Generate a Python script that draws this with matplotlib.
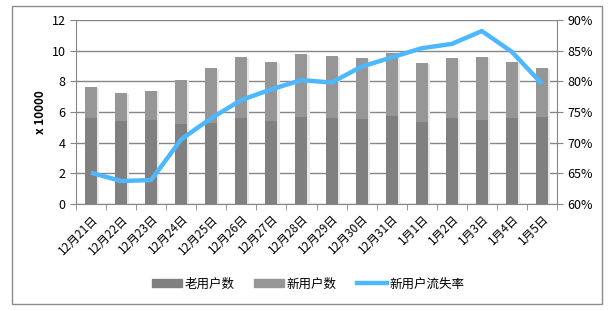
import numpy as np
import matplotlib.pyplot as plt
from matplotlib.patches import Rectangle
from matplotlib.lines import Line2D
from matplotlib.ticker import FuncFormatter

plt.rcParams['font.family'] = ['Noto Sans CJK SC', 'DejaVu Sans']

dates = ["12月21日", "12月22日", "12月23日", "12月24日", "12月25日", "12月26日",
         "12月27日", "12月28日", "12月29日", "12月30日", "12月31日", "1月1日",
         "1月2日", "1月3日", "1月4日", "1月5日"]
old_users = [5.59, 5.43, 5.48, 5.22, 5.30, 5.61, 5.43, 5.70,
             5.63, 5.57, 5.74, 5.35, 5.63, 5.50, 5.63, 5.67]
total_users = [7.63, 7.24, 7.39, 8.09, 8.87, 9.59, 9.26, 9.78,
               9.65, 9.52, 9.85, 9.20, 9.52, 9.59, 9.26, 8.87]
new_users = [t - o for t, o in zip(total_users, old_users)]
churn = [65.1, 63.75, 63.9, 70.55, 74.0, 76.96, 78.7, 80.2,
         79.8, 82.4, 83.9, 85.4, 86.1, 88.2, 84.8, 79.6]

c_old = "#808080"
c_new = "#969696"
c_line = "#4db8ff"
c_axis = "#868686"

fig = plt.figure(figsize=(6.08, 3.11), dpi=100)
fig.patches.append(Rectangle((12 / 608, 1 - 304 / 311), 590 / 608, 298 / 311,
                             transform=fig.transFigure, fill=False,
                             edgecolor="#8c8c8c", linewidth=1))

ax = fig.add_axes([76 / 608, 1 - 204 / 311, 481 / 608, 184 / 311])
x = np.arange(len(dates))
w = 0.4

# light shadow behind bars
ax.bar(x + 0.07, total_users, w, bottom=-0.05, color="#e8e8e8", zorder=2)
ax.bar(x, old_users, w, color=c_old, zorder=3)
ax.bar(x, new_users, w, bottom=old_users, color=c_new, zorder=3)

ax.set_xlim(-0.5, len(dates) - 0.5)
ax.set_ylim(0, 12)
ax.set_yticks(range(0, 13, 2))
ax.yaxis.grid(True, color=c_axis, linewidth=1)
ax.set_axisbelow(True)
ax.set_xticks(x)
ax.set_xticklabels(dates, rotation=45, ha="right", rotation_mode="anchor", fontsize=8.5)
ax.set_xticks(np.arange(-0.5, len(dates), 1), minor=True)
ax.tick_params(axis="x", which="major", length=0, pad=6)
ax.tick_params(axis="x", which="minor", length=4, color=c_axis)
ax.tick_params(axis="y", length=4, color=c_axis, labelsize=9)
ax.set_ylabel("x 10000", fontsize=8.5, fontweight="bold", labelpad=3)
for s in ["top", "right"]:
    ax.spines[s].set_visible(False)
for s in ["left", "bottom"]:
    ax.spines[s].set_color(c_axis)

ax2 = ax.twinx()
ax2.plot(x, churn, color=c_line, linewidth=3.2, solid_capstyle="butt", zorder=5)
ax2.set_ylim(60, 90)
ax2.set_yticks(range(60, 91, 5))
ax2.yaxis.set_major_formatter(FuncFormatter(lambda v, p: f"{v:.0f}%"))
ax2.tick_params(axis="y", length=4, color=c_axis, labelsize=9)
for s in ["top", "left", "bottom"]:
    ax2.spines[s].set_visible(False)
ax2.spines["right"].set_color(c_axis)

handles = [Rectangle((0, 0), 1, 1, color=c_old),
           Rectangle((0, 0), 1, 1, color=c_new),
           Line2D([0], [0], color=c_line, linewidth=3.2)]
fig.legend(handles, ["老用户数", "新用户数", "新用户流失率"], loc="center",
           bbox_to_anchor=(308 / 608, 1 - 284 / 311), ncol=3, frameon=False,
           fontsize=9, handlelength=2.4, handleheight=0.6, handletextpad=0.2,
           columnspacing=1.6)

fig.savefig("out.png", dpi=100)
